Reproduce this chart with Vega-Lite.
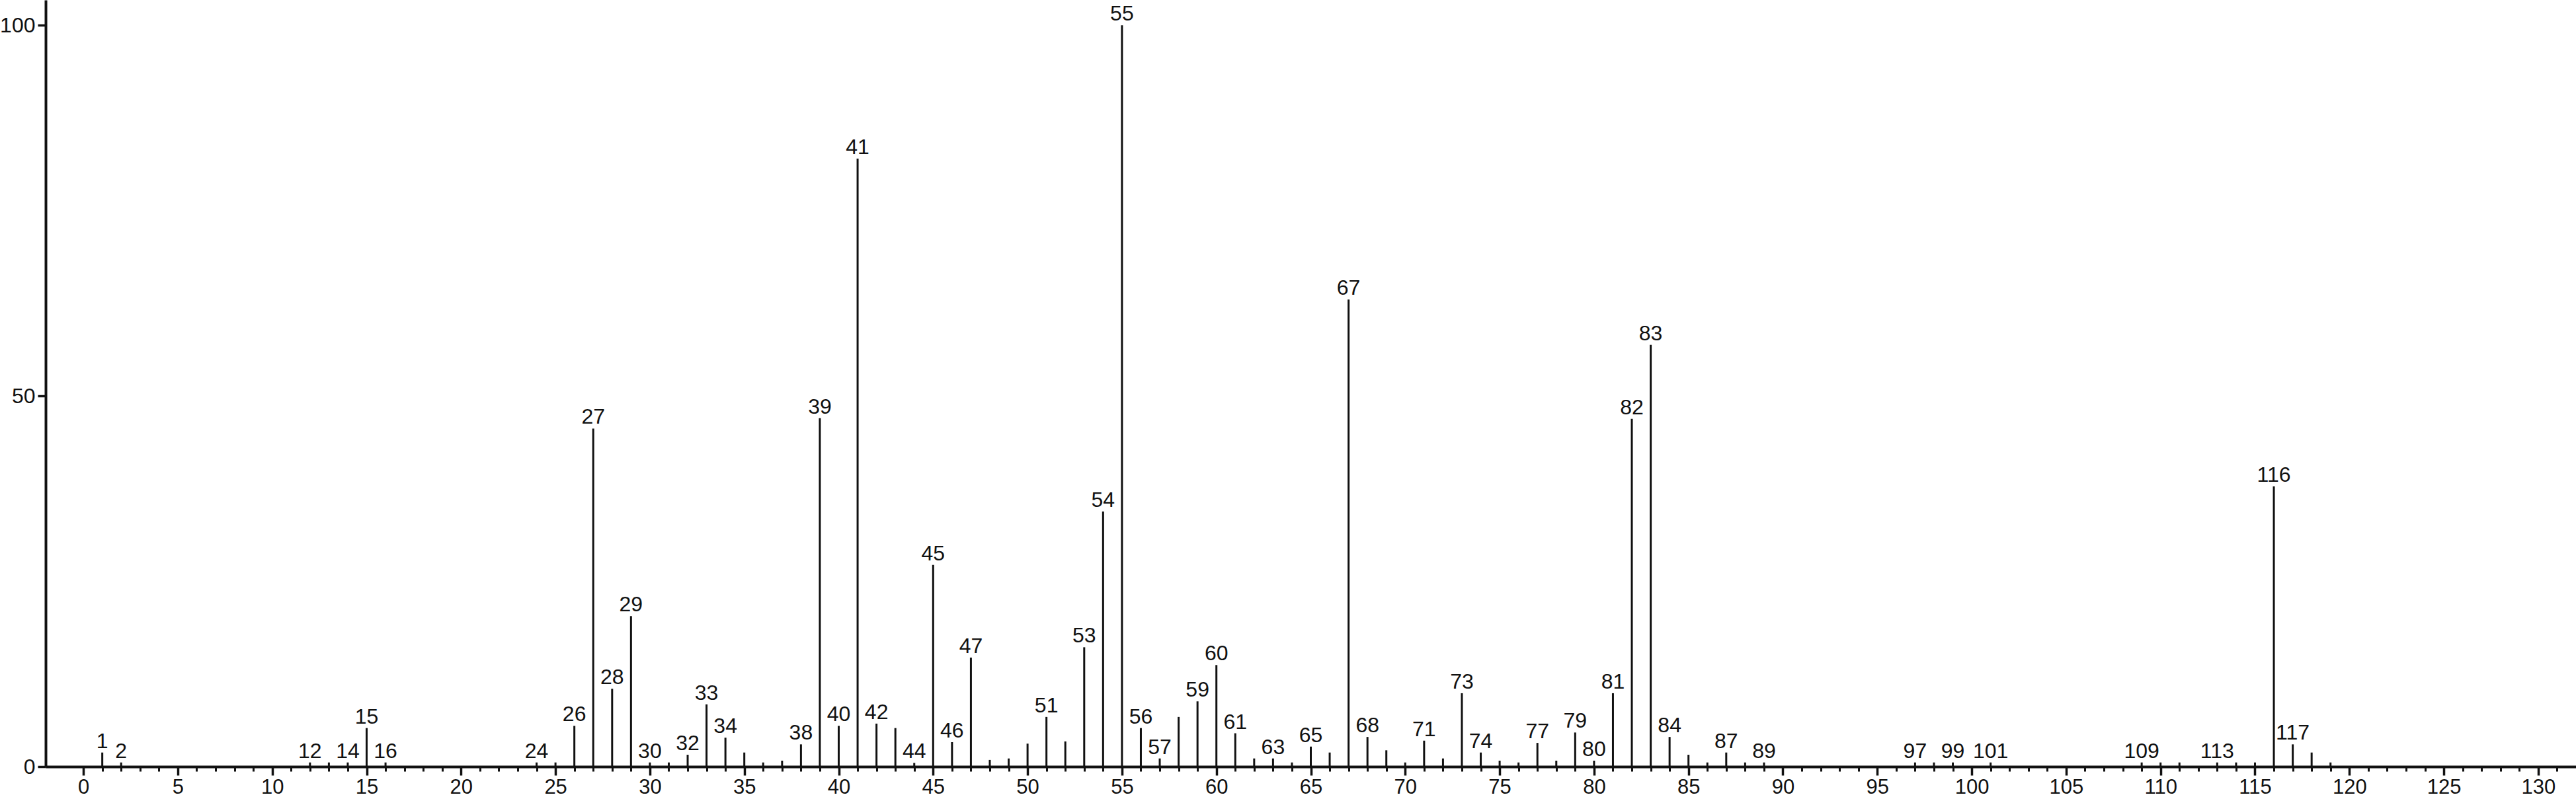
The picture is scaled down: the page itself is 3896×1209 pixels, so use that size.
{
  "$schema": "https://vega.github.io/schema/vega-lite/v6.json",
  "width": 3827,
  "height": 1160,
  "autosize": "none",
  "padding": {"left": 69, "top": 0, "right": 0, "bottom": 49},
  "background": "white",
  "config": {"view": {"stroke": null}, "font": "Liberation Sans"},
  "data": {"values": [
    {"mz": 1, "intensity": 1.9, "lbl": true},
    {"mz": 2, "intensity": 0.56, "lbl": true},
    {"mz": 12, "intensity": 0.56, "lbl": true},
    {"mz": 13, "intensity": 0.56, "lbl": false},
    {"mz": 14, "intensity": 0.56, "lbl": true},
    {"mz": 15, "intensity": 5.2, "lbl": true},
    {"mz": 16, "intensity": 0.56, "lbl": true},
    {"mz": 24, "intensity": 0.56, "lbl": true},
    {"mz": 25, "intensity": 0.56, "lbl": false},
    {"mz": 26, "intensity": 5.5, "lbl": true},
    {"mz": 27, "intensity": 45.6, "lbl": true},
    {"mz": 28, "intensity": 10.5, "lbl": true},
    {"mz": 29, "intensity": 20.3, "lbl": true},
    {"mz": 30, "intensity": 0.56, "lbl": true},
    {"mz": 31, "intensity": 0.56, "lbl": false},
    {"mz": 32, "intensity": 1.6, "lbl": true},
    {"mz": 33, "intensity": 8.4, "lbl": true},
    {"mz": 34, "intensity": 3.9, "lbl": true},
    {"mz": 35, "intensity": 1.9, "lbl": false},
    {"mz": 36, "intensity": 0.56, "lbl": false},
    {"mz": 37, "intensity": 0.8, "lbl": false},
    {"mz": 38, "intensity": 3.0, "lbl": true},
    {"mz": 39, "intensity": 47.0, "lbl": true},
    {"mz": 40, "intensity": 5.5, "lbl": true},
    {"mz": 41, "intensity": 82.0, "lbl": true},
    {"mz": 42, "intensity": 5.8, "lbl": true},
    {"mz": 43, "intensity": 5.2, "lbl": false},
    {"mz": 44, "intensity": 0.5, "lbl": true},
    {"mz": 45, "intensity": 27.2, "lbl": true},
    {"mz": 46, "intensity": 3.3, "lbl": true},
    {"mz": 47, "intensity": 14.7, "lbl": true},
    {"mz": 48, "intensity": 0.9, "lbl": false},
    {"mz": 49, "intensity": 1.1, "lbl": false},
    {"mz": 50, "intensity": 3.1, "lbl": false},
    {"mz": 51, "intensity": 6.7, "lbl": true},
    {"mz": 52, "intensity": 3.4, "lbl": false},
    {"mz": 53, "intensity": 16.1, "lbl": true},
    {"mz": 54, "intensity": 34.4, "lbl": true},
    {"mz": 55, "intensity": 100, "lbl": true},
    {"mz": 56, "intensity": 5.2, "lbl": true},
    {"mz": 57, "intensity": 1.1, "lbl": true},
    {"mz": 58, "intensity": 6.7, "lbl": false},
    {"mz": 59, "intensity": 8.8, "lbl": true},
    {"mz": 60, "intensity": 13.7, "lbl": true},
    {"mz": 61, "intensity": 4.5, "lbl": true},
    {"mz": 62, "intensity": 1.1, "lbl": false},
    {"mz": 63, "intensity": 1.1, "lbl": true},
    {"mz": 64, "intensity": 0.56, "lbl": false},
    {"mz": 65, "intensity": 2.7, "lbl": true},
    {"mz": 66, "intensity": 1.9, "lbl": false},
    {"mz": 67, "intensity": 63.0, "lbl": true},
    {"mz": 68, "intensity": 4.0, "lbl": true},
    {"mz": 69, "intensity": 2.2, "lbl": false},
    {"mz": 70, "intensity": 0.56, "lbl": false},
    {"mz": 71, "intensity": 3.5, "lbl": true},
    {"mz": 72, "intensity": 1.1, "lbl": false},
    {"mz": 73, "intensity": 9.9, "lbl": true},
    {"mz": 74, "intensity": 1.9, "lbl": true},
    {"mz": 75, "intensity": 0.8, "lbl": false},
    {"mz": 76, "intensity": 0.56, "lbl": false},
    {"mz": 77, "intensity": 3.2, "lbl": true},
    {"mz": 78, "intensity": 0.8, "lbl": false},
    {"mz": 79, "intensity": 4.6, "lbl": true},
    {"mz": 80, "intensity": 0.8, "lbl": true},
    {"mz": 81, "intensity": 9.9, "lbl": true},
    {"mz": 82, "intensity": 46.9, "lbl": true},
    {"mz": 83, "intensity": 56.9, "lbl": true},
    {"mz": 84, "intensity": 4.0, "lbl": true},
    {"mz": 85, "intensity": 1.6, "lbl": false},
    {"mz": 86, "intensity": 0.56, "lbl": false},
    {"mz": 87, "intensity": 1.9, "lbl": true},
    {"mz": 88, "intensity": 0.56, "lbl": false},
    {"mz": 89, "intensity": 0.56, "lbl": true},
    {"mz": 97, "intensity": 0.56, "lbl": true},
    {"mz": 98, "intensity": 0.56, "lbl": false},
    {"mz": 99, "intensity": 0.56, "lbl": true},
    {"mz": 101, "intensity": 0.56, "lbl": true},
    {"mz": 109, "intensity": 0.56, "lbl": true},
    {"mz": 110, "intensity": 0.56, "lbl": false},
    {"mz": 111, "intensity": 0.56, "lbl": false},
    {"mz": 113, "intensity": 0.56, "lbl": true},
    {"mz": 114, "intensity": 0.56, "lbl": false},
    {"mz": 115, "intensity": 0.56, "lbl": false},
    {"mz": 116, "intensity": 37.8, "lbl": true},
    {"mz": 117, "intensity": 3.0, "lbl": true},
    {"mz": 118, "intensity": 1.9, "lbl": false},
    {"mz": 119, "intensity": 0.56, "lbl": false}
  ]},
  "layer": [
    {
      "mark": {"type": "rule", "strokeWidth": 3, "color": "#111111"},
      "encoding": {
        "x": {"field": "mz", "type": "quantitative",
              "scale": {"domain": [-2, 132], "nice": false, "zero": false},
              "axis": {"orient": "bottom", "values": [0,5,10,15,20,25,30,35,40,45,50,55,60,65,70,75,80,85,90,95,100,105,110,115,120,125,130],
                       "title": null, "grid": false, "tickSize": 13, "tickWidth": 3.5, "tickColor": "#111111",
                       "domainWidth": 4, "domainColor": "#111111", "labelFontSize": 31, "labelColor": "#111111",
                       "labelPadding": 3, "labelFont": "Liberation Sans", "labelFlush": false, "labelOverlap": false}},
        "y": {"field": "intensity", "type": "quantitative",
              "scale": {"domain": [0, 103.4], "nice": false},
              "axis": {"values": [0, 50, 100], "title": null, "grid": false, "tickSize": 12, "tickWidth": 3.5,
                       "tickColor": "#111111", "domainWidth": 4, "domainColor": "#111111", "labelFontSize": 32,
                       "labelColor": "#111111", "labelPadding": 4, "labelFont": "Liberation Sans", "labelFlush": false}},
        "y2": {"datum": 0}
      }
    },
    {
      "transform": [{"filter": "datum.lbl"}],
      "mark": {"type": "text", "baseline": "alphabetic", "align": "center", "dy": -7, "fontSize": 32, "font": "Liberation Sans", "color": "#111111"},
      "encoding": {
        "x": {"field": "mz", "type": "quantitative", "scale": {"domain": [-2, 132], "nice": false, "zero": false}, "axis": null},
        "y": {"field": "intensity", "type": "quantitative", "scale": {"domain": [0, 103.4], "nice": false}},
        "text": {"field": "mz", "type": "nominal"}
      }
    },
    {
      "mark": {"type": "rule", "opacity": 0},
      "encoding": {
        "x": {"field": "mz", "type": "quantitative",
              "scale": {"domain": [-2, 132], "nice": false, "zero": false},
              "axis": {"orient": "bottom", "values": [0,1,2,3,4,5,6,7,8,9,10,11,12,13,14,15,16,17,18,19,20,21,22,23,24,25,26,27,28,29,30,31,32,33,34,35,36,37,38,39,40,41,42,43,44,45,46,47,48,49,50,51,52,53,54,55,56,57,58,59,60,61,62,63,64,65,66,67,68,69,70,71,72,73,74,75,76,77,78,79,80,81,82,83,84,85,86,87,88,89,90,91,92,93,94,95,96,97,98,99,100,101,102,103,104,105,106,107,108,109,110,111,112,113,114,115,116,117,118,119,120,121,122,123,124,125,126,127,128,129,130,131],
                       "title": null, "grid": false, "labels": false, "domain": false, "tickSize": 7, "tickWidth": 3, "tickColor": "#111111"}}
      }
    }
  ],
  "resolve": {"axis": {"x": "independent"}}
}
